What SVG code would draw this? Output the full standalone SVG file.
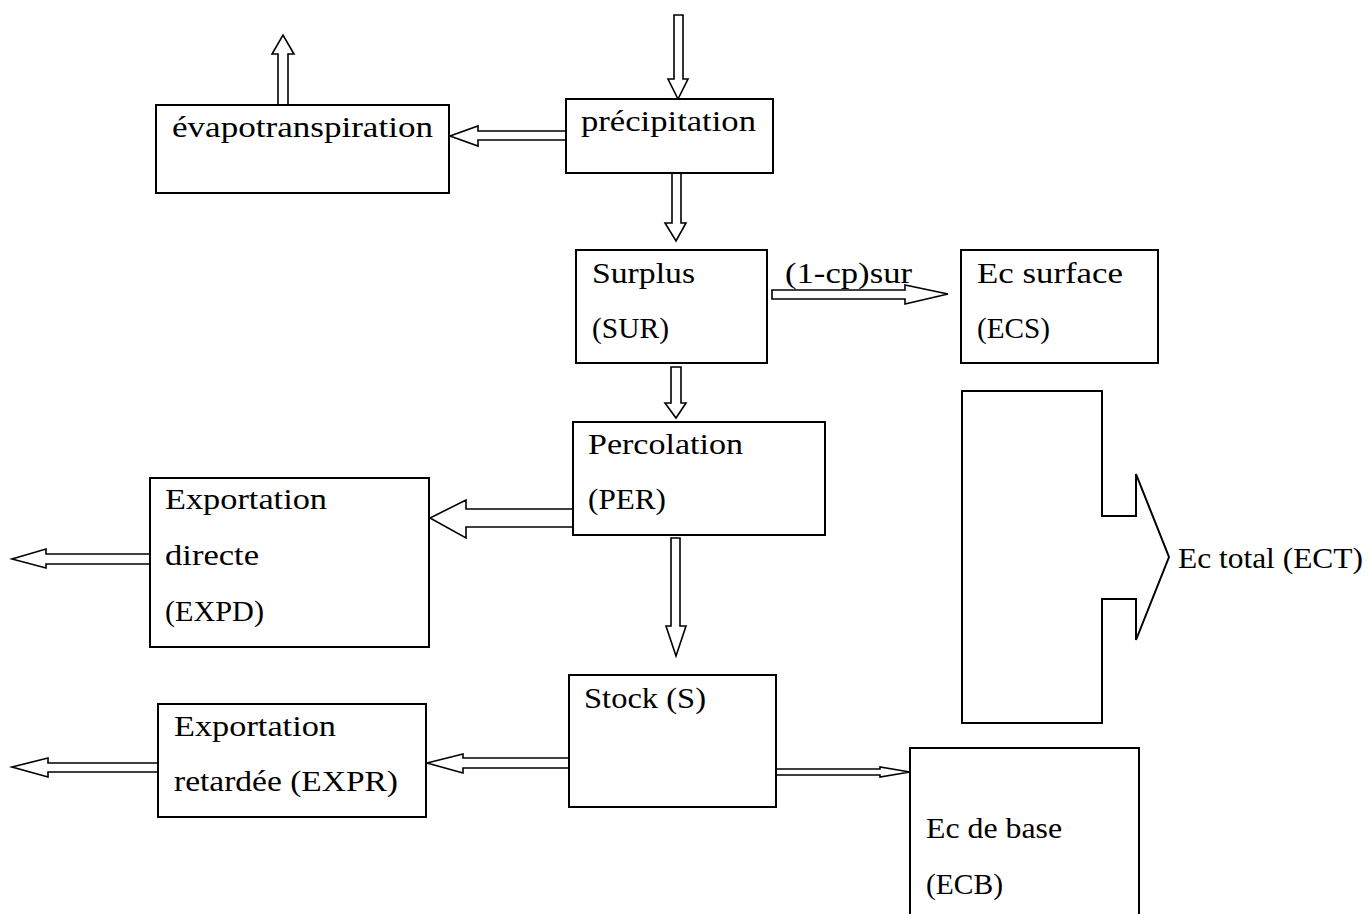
<svg xmlns="http://www.w3.org/2000/svg" width="1368" height="914" viewBox="0 0 1368 914">
  <style>
    .box { fill: #fff; stroke: #000; stroke-width: 2; }
    .arr { fill: #fff; stroke: #000; stroke-width: 1.6; stroke-linejoin: miter; }
    text { font-family: "Liberation Serif", "Times New Roman", serif; font-size: 30px; fill: #000; }
  </style>
  <rect width="1368" height="914" fill="#fff"/>

  <!-- block arrows -->
  <g id="connectors">
    <!-- rain input -->
    <polygon class="arr" points="674,15 683,15 683,79 688,79 678,99 668,79 674,79"/>
    <!-- evapotranspiration output -->
    <polygon class="arr" points="278,105 288,105 288,54 294,54 283,35 272,54 278,54"/>
    <!-- precipitation to evapotranspiration -->
    <polygon class="arr" points="566,131 478,131 478,126 450,136 478,146 478,140 566,140"/>
    <!-- precipitation to surplus -->
    <polygon class="arr" points="672,173 681,173 681,223 686,223 676,241 665,223 672,223"/>
    <!-- surplus to surface runoff -->
    <polygon class="arr" points="772,290 905,290 905,285 948,294 905,304 905,299 772,299"/>
    <!-- surplus to percolation -->
    <polygon class="arr" points="671,367 681,367 681,403 686,403 676,418 665,403 671,403"/>
    <!-- percolation to direct export -->
    <polygon class="arr" points="573,509 466,509 466,500 430,518 466,538 466,527 573,527"/>
    <!-- direct export outflow -->
    <polygon class="arr" points="150,554 46,554 46,549 12,559 46,568 46,564 150,564"/>
    <!-- percolation to stock -->
    <polygon class="arr" points="671,538 680,538 680,626 686,626 676,656 666,626 671,626"/>
    <!-- stock to delayed export -->
    <polygon class="arr" points="569,758 463,758 463,754 427,763 463,773 463,768 569,768"/>
    <!-- delayed export outflow -->
    <polygon class="arr" points="158,763 48,763 48,758 12,767 48,777 48,772 158,772"/>
    <!-- stock to base flow -->
    <polygon class="arr" points="776,769 880,769 880,767 910,772 880,777 880,775 776,775"/>
  </g>

  <g id="precipitation">
    <rect class="box" x="566" y="99" width="207" height="74"/>
    <text x="581" y="131" textLength="175" lengthAdjust="spacingAndGlyphs">précipitation</text>
  </g>

  <g id="evapotranspiration">
    <rect class="box" x="156" y="105" width="293" height="88"/>
    <text x="172" y="137" textLength="261" lengthAdjust="spacingAndGlyphs">évapotranspiration</text>
  </g>

  <g id="surplus">
    <rect class="box" x="576" y="250" width="191" height="113"/>
    <text x="592" y="283" textLength="103" lengthAdjust="spacingAndGlyphs">Surplus</text>
    <text x="592" y="338" textLength="77" lengthAdjust="spacingAndGlyphs">(SUR)</text>
  </g>

  <text id="label-runoff" x="785" y="283" textLength="127" lengthAdjust="spacingAndGlyphs">(1-cp)sur</text>

  <g id="ec-surface">
    <rect class="box" x="961" y="250" width="197" height="113"/>
    <text x="977" y="283" textLength="146" lengthAdjust="spacingAndGlyphs">Ec surface</text>
    <text x="977" y="338" textLength="73" lengthAdjust="spacingAndGlyphs">(ECS)</text>
  </g>

  <g id="percolation">
    <rect class="box" x="573" y="422" width="252" height="113"/>
    <text x="588" y="454" textLength="155" lengthAdjust="spacingAndGlyphs">Percolation</text>
    <text x="588" y="509" textLength="78" lengthAdjust="spacingAndGlyphs">(PER)</text>
  </g>

  <g id="export-direct">
    <rect class="box" x="150" y="478" width="279" height="169"/>
    <text x="165" y="509" textLength="162" lengthAdjust="spacingAndGlyphs">Exportation</text>
    <text x="165" y="565" textLength="94" lengthAdjust="spacingAndGlyphs">directe</text>
    <text x="165" y="621" textLength="99" lengthAdjust="spacingAndGlyphs">(EXPD)</text>
  </g>

  <g id="ec-total">
    <path class="box" d="M962,391 H1102 V516 H1136 V474 L1169,557 L1136,640 V599 H1102 V723 H962 Z"/>
    <text x="1178" y="568" textLength="185" lengthAdjust="spacingAndGlyphs">Ec total (ECT)</text>
  </g>

  <g id="stock">
    <rect class="box" x="569" y="675" width="207" height="132"/>
    <text x="584" y="708" textLength="122" lengthAdjust="spacingAndGlyphs">Stock (S)</text>
  </g>

  <g id="export-delayed">
    <rect class="box" x="158" y="704" width="268" height="113"/>
    <text x="174" y="736" textLength="162" lengthAdjust="spacingAndGlyphs">Exportation</text>
    <text x="174" y="791" textLength="224" lengthAdjust="spacingAndGlyphs">retardée (EXPR)</text>
  </g>

  <g id="ec-base">
    <path class="box" d="M910,916 V748 H1139 V916"/>
    <text x="926" y="838" textLength="136" lengthAdjust="spacingAndGlyphs">Ec de base</text>
    <text x="926" y="894" textLength="77" lengthAdjust="spacingAndGlyphs">(ECB)</text>
  </g>
</svg>
